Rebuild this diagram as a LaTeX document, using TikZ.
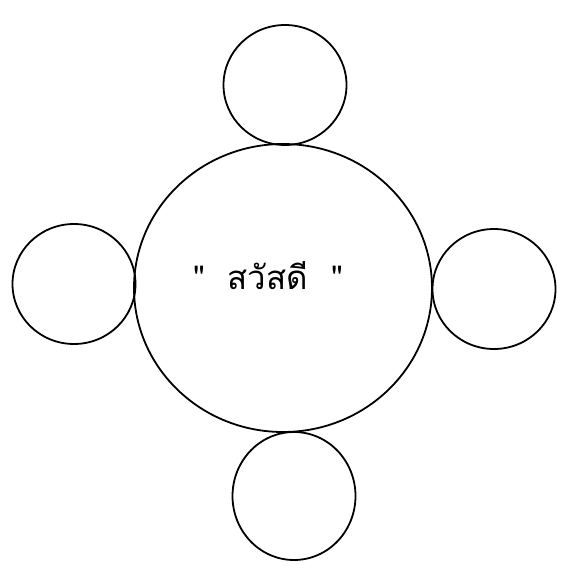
\documentclass[tikz,border=0pt]{standalone}
\usepackage{fontspec}
\newfontfamily\thaifont[Script=Thai]{Loma}
\usetikzlibrary{shapes.geometric}
\begin{document}
\begin{tikzpicture}[x=0.5pt,y=-0.5pt,
  ring/.style={draw,ellipse,inner sep=0pt,line width=0.9pt},
  bigring/.style={ring,minimum width=149pt,minimum height=144pt},
  smallring/.style={ring,minimum width=61.5pt,minimum height=60pt}]
\useasboundingbox (0,0) rectangle (566,573);
\node[bigring] (table) at (283,288) {};
\node[smallring] (seattop) at (285,85) {};
\node[smallring] (seatleft) at (74,284) {};
\node[smallring] (seatright) at (494,289) {};
\node[smallring,minimum height=64pt] (seatbottom) at (294,496) {};
\node[font=\thaifont\fontsize{16.5}{20}\selectfont] (greeting) at (268,276) {"\hspace{0.7em}สวัสดี\hspace{0.7em}"};
\end{tikzpicture}
\end{document}
